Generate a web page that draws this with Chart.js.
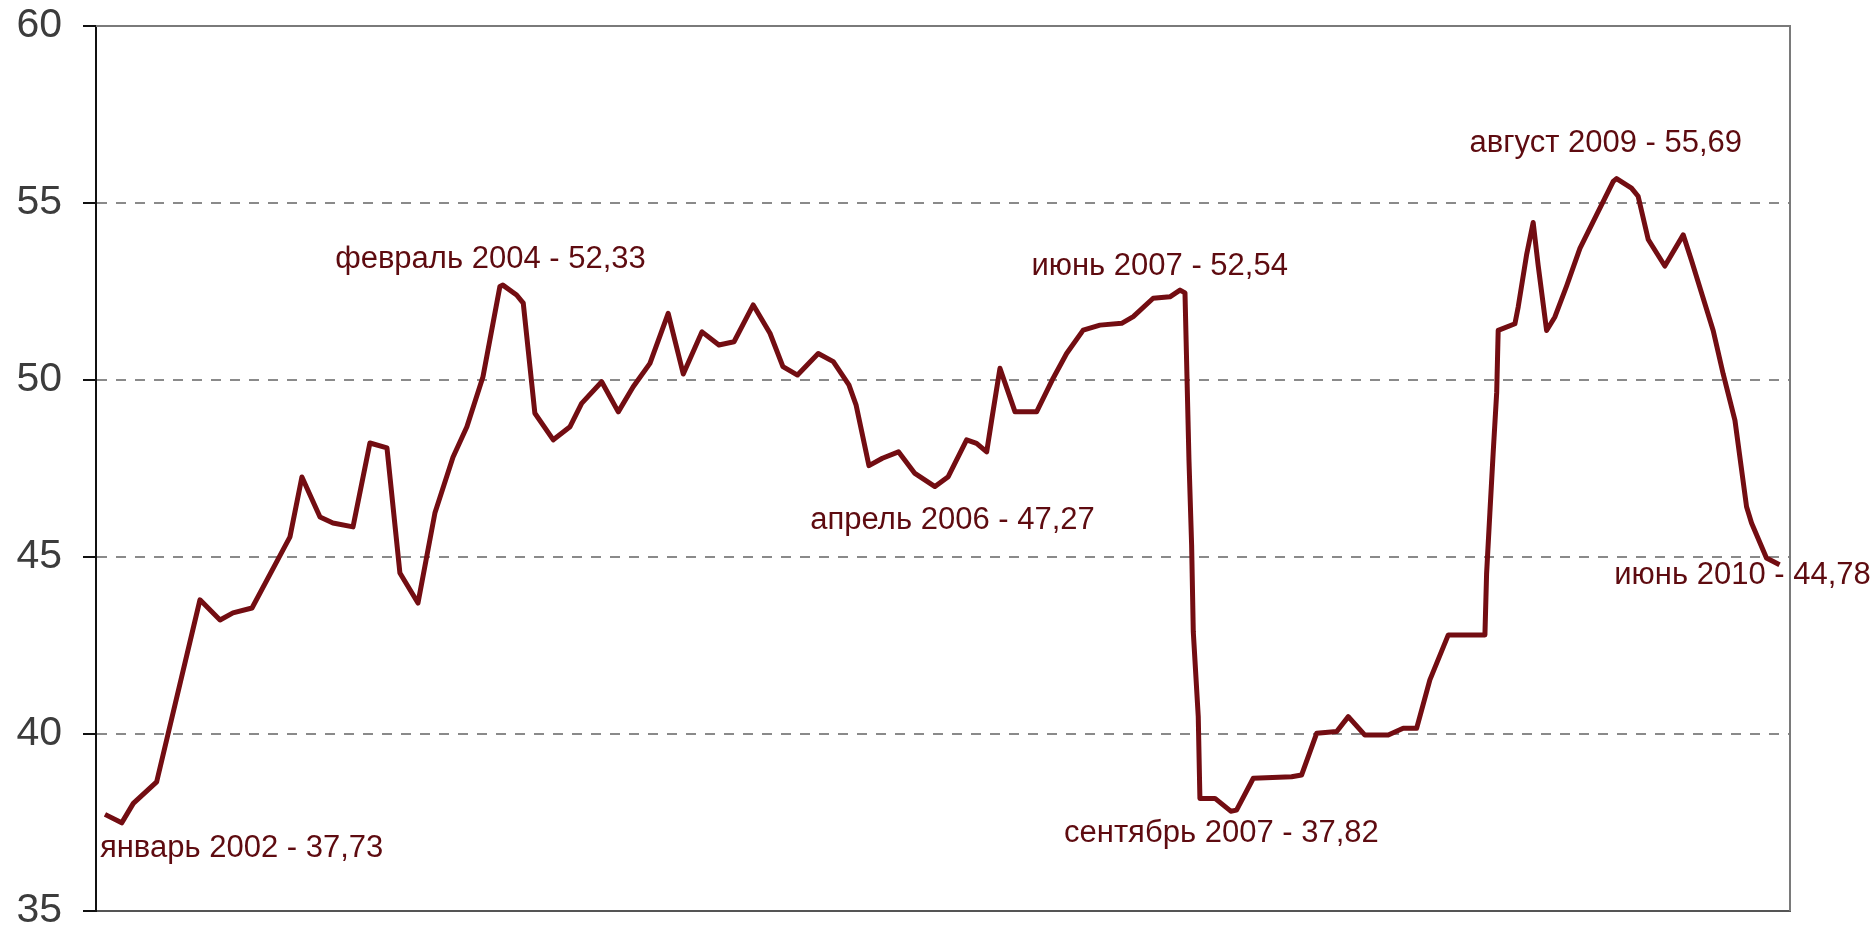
<!DOCTYPE html>
<html>
<head>
<meta charset="utf-8">
<title>chart</title>
<script src="https://cdn.jsdelivr.net/npm/chart.js@4.4.0/dist/chart.umd.min.js"></script>
<style>
    body { margin: 0; background: #ffffff; }
    #box { width: 1874px; height: 926px; }
</style>
</head>
<body>
<div id="box"><canvas id="myChart" width="1874" height="926"></canvas></div>
<script>
// months counted from january 2002 (0) to june 2010 (101)
var months = [0, 1.01, 1.71, 3.12, 5.73, 6.94, 7.72, 8.87, 10.74, 11.16,
    11.88, 12.97, 13.75, 14.96, 15.98, 17.01, 17.79, 18.88, 19.90, 20.99,
    21.83, 22.80, 23.82, 24.00, 24.83, 25.23, 25.93, 27.04, 28.05, 28.75,
    29.96, 30.96, 31.86, 32.87, 33.97, 34.88, 36.01, 37.03, 37.94, 39.10,
    40.11, 40.89, 41.77, 43.02, 43.93, 44.87, 45.30, 46.08, 46.89, 47.86,
    48.85, 50.06, 50.86, 51.97, 52.57, 53.18, 53.48, 53.98, 54.89, 56.19,
    57.19, 58.00, 59.00, 60.01, 61.32, 62.02, 63.22, 64.23, 64.84, 65.14,
    65.26, 65.38, 65.54, 65.64, 65.94, 66.04, 66.95, 67.90, 68.25, 69.26,
    71.57, 72.17, 73.08, 74.29, 74.99, 75.99, 77.40, 78.30, 79.11, 79.91,
    81.02, 83.23, 83.33, 83.53, 83.73, 83.94, 84.03, 85.04, 85.24, 85.74,
    86.14, 86.44, 86.95, 87.45, 88.16, 88.96, 89.97, 90.97, 91.17, 92.07,
    92.47, 93.08, 94.08, 95.19, 95.70, 97.00, 97.60, 98.31, 99.01, 99.31,
    100.21, 101.00];

var values = [37.73, 37.49, 38.04, 38.65, 43.79, 43.22, 43.42, 43.56, 45.20, 45.57,
    47.26, 46.13, 45.96, 45.85, 48.22, 48.08, 44.55, 43.70, 46.24, 47.82,
    48.68, 50.09, 52.64, 52.68, 52.40, 52.17, 49.06, 48.31, 48.68, 49.34,
    49.95, 49.10, 49.81, 50.47, 51.88, 50.17, 51.36, 50.99, 51.08, 52.12,
    51.32, 50.38, 50.14, 50.75, 50.52, 49.86, 49.30, 47.58, 47.79, 47.97,
    47.36, 46.99, 47.27, 48.31, 48.21, 47.97, 48.87, 50.33, 49.10, 49.10,
    50.05, 50.75, 51.41, 51.55, 51.60, 51.79, 52.31, 52.35, 52.54, 52.46,
    50.09, 47.74, 45.34, 42.89, 40.49, 38.18, 38.18, 37.82, 37.85, 38.75,
    38.79, 38.84, 40.02, 40.07, 40.49, 39.97, 39.97, 40.16, 40.16, 41.53,
    42.80, 42.80, 44.52, 46.26, 47.96, 49.65, 51.40, 51.59, 52.07, 53.53,
    54.45, 53.24, 51.40, 51.78, 52.66, 53.72, 54.67, 55.61, 55.69, 55.42,
    55.19, 53.97, 53.22, 54.10, 53.36, 51.39, 50.17, 48.86, 46.42, 45.96,
    44.97, 44.78];

var yTicks = [35, 40, 45, 50, 55, 60];

// подписи экстремумов
var noteNames = ['январь 2002', 'февраль 2004', 'апрель 2006', 'июнь 2007', 'сентябрь 2007', 'август 2009', 'июнь 2010'];
var noteMonths = [0, 25, 51, 65, 68, 91, 101];
var noteValues = [37.73, 52.33, 47.27, 52.54, 37.82, 55.69, 44.78];

// offsets of each note from its point, in pixels
var noteLayout = [
    { dx: -5, dy: 34, align: 'left' },
    { dx: -29, dy: -38, align: 'center' },
    { dx: 2, dy: 44, align: 'center' },
    { dx: -23, dy: -24, align: 'center' },
    { dx: -11, dy: 22, align: 'center' },
    { dx: -8, dy: -35, align: 'center' },
    { dx: -37, dy: 11, align: 'center' }
];

var lineColor = '#730d12';

var points = [];
for (var i = 0; i < months.length; i++) {
    points.push({ x: months[i], y: values[i] });
}

var notesPlugin = {
    id: 'notes',
    afterDatasetsDraw: function (chart) {
        var ctx = chart.ctx;
        var xs = chart.scales.x;
        var ys = chart.scales.y;
        ctx.save();
        ctx.font = '31px "Liberation Sans", Arial, sans-serif';
        ctx.fillStyle = '#5e0b10';
        ctx.textBaseline = 'middle';
        for (var i = 0; i < noteNames.length; i++) {
            var text = noteNames[i] + ' - ' + noteValues[i].toFixed(2).replace('.', ',');
            var px = xs.getPixelForValue(noteMonths[i]);
            var py = ys.getPixelForValue(noteValues[i]);
            ctx.textAlign = noteLayout[i].align;
            ctx.fillText(text, px + noteLayout[i].dx, py + noteLayout[i].dy);
        }
        ctx.restore();
    }
};

// top and right edges of the plot frame
var framePlugin = {
    id: 'frame',
    beforeDatasetsDraw: function (chart) {
        var a = chart.chartArea;
        var ctx = chart.ctx;
        ctx.save();
        ctx.strokeStyle = '#7a7a7a';
        ctx.lineWidth = 2;
        ctx.beginPath();
        ctx.moveTo(a.left, a.top);
        ctx.lineTo(a.right, a.top);
        ctx.lineTo(a.right, a.bottom);
        ctx.stroke();
        ctx.restore();
    }
};

Chart.defaults.font.family = '"Liberation Sans", Arial, sans-serif';

var ctx = document.getElementById('myChart').getContext('2d');
var myChart = new Chart(ctx, {
    type: 'line',
    data: {
        datasets: [{
            data: points,
            borderColor: lineColor,
            borderWidth: 5,
            pointRadius: 0,
            tension: 0,
            borderJoinStyle: 'round'
        }]
    },
    options: {
        responsive: false,
        animation: false,
        devicePixelRatio: 1,
        layout: {
            padding: { left: 0, right: 84, top: 26, bottom: 15 }
        },
        plugins: {
            legend: { display: false },
            tooltip: { enabled: false }
        },
        scales: {
            x: {
                type: 'linear',
                min: -0.54,
                max: 101.63,
                ticks: { display: false },
                grid: { display: false, drawTicks: false },
                border: { display: true, color: '#555555', width: 2 },
                afterFit: function (scale) {
                    scale.height = 0;
                    scale.paddingLeft = 0;
                    scale.paddingRight = 0;
                }
            },
            y: {
                min: 35,
                max: 60,
                afterBuildTicks: function (scale) {
                    scale.ticks = yTicks.map(function (v) { return { value: v }; });
                },
                ticks: {
                    color: '#3c3c3c',
                    font: { size: 41 },
                    padding: 21
                },
                grid: {
                    color: function (c) {
                        if (c.tick && (c.tick.value === 35 || c.tick.value === 60)) return 'rgba(0,0,0,0)';
                        return '#8a8a8a';
                    },
                    lineWidth: 2,
                    drawTicks: true,
                    tickLength: 13,
                    tickColor: '#111111',
                    tickWidth: 2
                },
                border: { display: true, color: '#111111', width: 2, dash: [10, 9] },
                afterFit: function (scale) {
                    scale.width = 96;
                    scale.paddingTop = 0;
                    scale.paddingBottom = 0;
                }
            }
        }
    },
    plugins: [framePlugin, notesPlugin]
});
</script>
</body>
</html>
